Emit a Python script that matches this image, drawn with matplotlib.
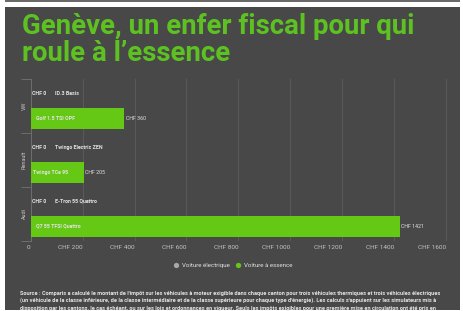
import matplotlib
matplotlib.use("Agg")
import matplotlib.pyplot as plt
from matplotlib.patches import Rectangle
from matplotlib.lines import Line2D
import numpy as np

# ---- data ----
brands = ["VW", "Renault", "Audi"]
electric_models = ["ID.3 Basis", "Twingo Electric ZEN", "E-Tron 55 Quattro"]
electric_values = [0, 0, 0]
petrol_models = ["Golf 1.5 TSI OPF", "Twingo TCe 95", "Q7 55 TFSI Quattro"]
petrol_values = [360, 205, 1421]
series_names = ["Voiture électrique", "Voiture à essence"]
x_ticks = [0, 200, 400, 600, 800, 1000, 1200, 1400, 1600]
x_tick_labels = ["0"] + [f"CHF {v}" for v in x_ticks[1:]]
title = "Genève, un enfer fiscal pour qui\nroule à l’essence"
source_lines = [
    "Source : Comparis a calculé le montant de l'impôt sur les véhicules à moteur exigible dans chaque canton pour trois véhicules thermiques et trois véhicules électriques",
    "(un véhicule de la classe inférieure, de la classe intermédiaire et de la classe supérieure pour chaque type d'énergie). Les calculs s'appuient sur les simulateurs mis à",
    "disposition par les cantons, le cas échéant, ou sur les lois et ordonnances en vigueur. Seuls les impôts exigibles pour une première mise en circulation ont été pris en",
]

# ---- style ----
BG = "#484848"
GREEN = "#64c814"
TITLE_GREEN = "#5dc221"
GREY = "#a8a8a8"
TXT = "#e2e2e2"
TICK = "#c4c4c4"
GRID = "#5a5a5a"
FONT = "Roboto"

W, H = 464, 311
fig = plt.figure(figsize=(W / 100, H / 100), dpi=100, facecolor="white")
renderer = fig.canvas.get_renderer()

def px_rect(x0, y0, x1, y1, color):
    fig.patches.append(Rectangle((x0 / W, 1 - y1 / H), (x1 - x0) / W, (y1 - y0) / H,
                                 transform=fig.transFigure, facecolor=color,
                                 edgecolor="none", zorder=-10))

px_rect(5, 0, 460, 2, "#6a6a6a")
px_rect(5, 7, 460, 310, BG)

# axes geometry in pixels
ax_l, ax_r, ax_t, ax_b = 30.7, 460, 79, 241
ax = fig.add_axes([ax_l / W, 1 - ax_b / H, (ax_r - ax_l) / W, (ax_b - ax_t) / H])
ax.set_facecolor("none")

k = (446 - ax_l) / 1600.0
ax.set_xlim(0, (ax_r - ax_l) / k)
ax.set_ylim(2.5, -0.5)

pos = np.arange(len(brands))
off_e, off_p, bh = -0.24, 0.225, 0.39

ax.barh(pos + off_e, electric_values, height=bh, color=GREY, zorder=3)
ax.barh(pos + off_p, petrol_values, height=bh, color=GREEN, zorder=3)

lab_kw = dict(fontsize=3.8, fontfamily=FONT, fontweight="bold", color=TXT, va="center", zorder=5)
for i in range(len(brands)):
    ax.annotate(f"CHF {electric_values[i]}", (electric_values[i], pos[i] + off_e),
                xytext=(1.0, 0), textcoords="offset points", ha="left", **lab_kw)
    ax.annotate(electric_models[i], (electric_values[i], pos[i] + off_e),
                xytext=(17.5, 0), textcoords="offset points", ha="left", **lab_kw)
    ax.annotate(petrol_models[i], (0, pos[i] + off_p),
                xytext=(3.6 if i != 1 else 1.5, 0), textcoords="offset points", ha="left", **lab_kw)
    ax.annotate(f"CHF {petrol_values[i]}", (petrol_values[i], pos[i] + off_p),
                xytext=(1.0, 0), textcoords="offset points", ha="left",
                **{**lab_kw, "fontweight": "normal"})

# x axis
ax.set_xticks(x_ticks)
ax.set_xticklabels(x_tick_labels, fontsize=4.6, fontfamily=FONT, color=TICK, ha="right")
ax.tick_params(axis="x", length=0, pad=3)
ax.grid(axis="x", color=GRID, linewidth=0.7, zorder=0)

# y axis
ax.set_yticks(pos)
ax.set_yticklabels(brands, rotation=90, fontsize=4.0, fontfamily=FONT, color=TICK, va="center")
ax.tick_params(axis="y", length=0, pad=3)
ax.set_yticks([-0.5, 0.5, 1.5, 2.5], minor=True)
ax.tick_params(axis="y", which="minor", length=7.2, width=0.7, color="#6e6e6e")

for s in ["top", "right", "bottom"]:
    ax.spines[s].set_visible(False)
ax.spines["left"].set_color("#6e6e6e")
ax.spines["left"].set_linewidth(0.7)

# title
fig.text(22 / W, 1 - 13 / H, title, fontsize=19.8, fontfamily=FONT, fontweight="bold",
         color=TITLE_GREEN, ha="left", va="top", linespacing=0.98)

# legend
handles = [Line2D([], [], marker="o", linestyle="none", markersize=3.8, markerfacecolor=c,
                  markeredgecolor="none") for c in [GREY, GREEN]]
leg = fig.legend(handles, series_names, loc="center", bbox_to_anchor=(233 / W, 1 - 265 / H),
                 ncol=2, frameon=False, handlelength=0.8, handletextpad=0.5,
                 columnspacing=1.0, prop={"family": FONT, "size": 4.4})
for t in leg.get_texts():
    t.set_color(TXT)

# source: fit first line to span about 417 px
probe = fig.text(0, 0, source_lines[0], fontsize=4.0, fontfamily=FONT, fontweight="bold")
wpx = probe.get_window_extent(renderer).width
probe.remove()
src_size = 4.0 * 415.0 / wpx
for j, line in enumerate(source_lines):
    fig.text(20 / W, 1 - (293 + 7.6 * j) / H, line, fontsize=src_size, fontfamily=FONT,
             fontweight="bold", color=TXT, ha="left", va="center")

fig.savefig("out.png", dpi=100, facecolor="white")
